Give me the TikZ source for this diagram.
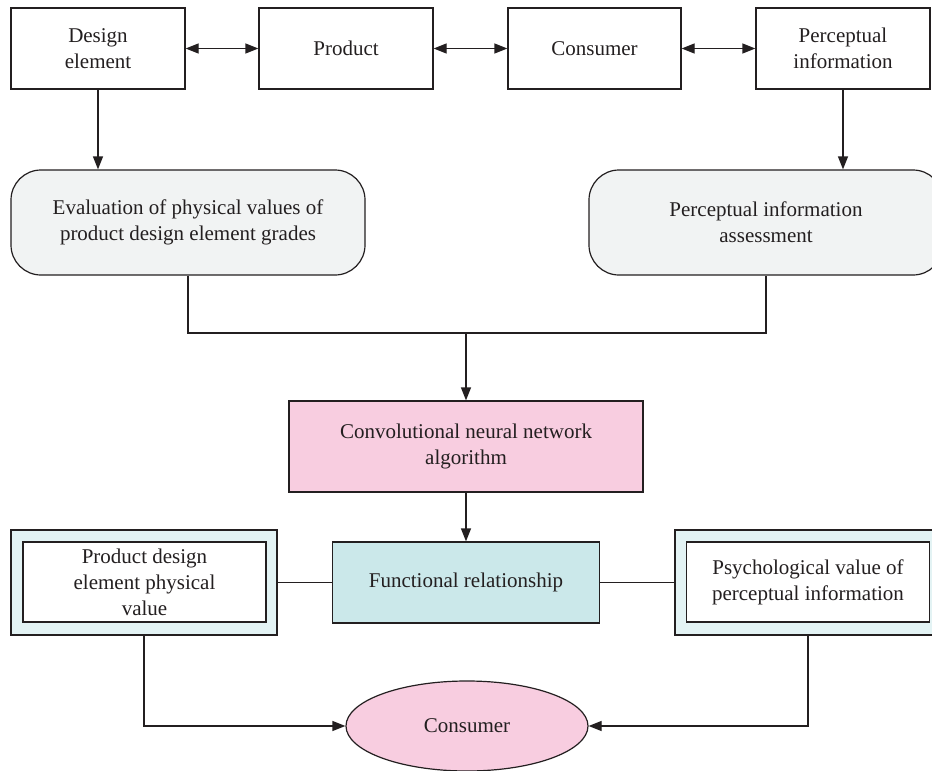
\documentclass[tikz,border=0pt]{standalone}
\usepackage{fontspec}
\setmainfont{Liberation Serif}
\usetikzlibrary{arrows.meta,shapes.geometric}
\definecolor{ink}{HTML}{231F20}
\definecolor{greyfill}{HTML}{F1F3F3}
\definecolor{pinkfill}{HTML}{F8CDE0}
\definecolor{tealfill}{HTML}{CBE8EA}
\definecolor{palefill}{HTML}{E3F3F4}
\tikzset{
  conn/.style={draw=ink, line width=1.2pt},
  tip/.style={},
  arr/.style={conn, -{Triangle[length=13pt,width=10pt]}},
  darr/.style={conn, {Triangle[length=13pt,width=10pt]}-{Triangle[length=13pt,width=10pt]}},
  plainbox/.style={draw=ink, line width=1.2pt, text=ink, align=center, inner sep=0pt},
  topbox/.style={plainbox, minimum width=174pt, minimum height=81pt},
  roundbox/.style={plainbox, fill=greyfill, rounded corners=30pt, minimum width=354pt, minimum height=105pt},
  outerbox/.style={plainbox, fill=palefill, minimum width=266pt, minimum height=105pt},
  innerbox/.style={plainbox, fill=white, minimum width=243pt, minimum height=80pt},
}
\begin{document}
\begin{tikzpicture}[x=1pt, y=-1pt, font=\fontsize{21}{26}\selectfont]
\useasboundingbox (0,0) rectangle (932,771);
\clip (0,0) rectangle (932,771);

% top row
\node[topbox] (design) at (98,48.5) {Design\\element};
\node[topbox] (product) at (346,48.5) {Product};
\node[topbox, minimum width=173pt] (consumer) at (594.5,48.5) {Consumer};
\node[topbox] (percinfo) at (843,48.5) {Perceptual\\information};

\draw[darr] (design.east) -- (product.west);
\draw[darr] (product.east) -- (consumer.west);
\draw[darr] (consumer.east) -- (percinfo.west);

% assessment boxes
\node[roundbox] (evalbox) at (188,222.5) {Evaluation of physical values of\\product design element grades};
\node[roundbox] (assess) at (766,222.5) {Perceptual information\\assessment};

\draw[arr] (design.south) -- (design.south |- evalbox.north);
\draw[arr] (percinfo.south) -- (percinfo.south |- assess.north);

% merge into the network
\coordinate (merge) at (466,333);
\draw[conn] (evalbox.south) -- (evalbox.south |- merge) -- (assess.south |- merge) -- (assess.south);

\node[plainbox, fill=pinkfill, minimum width=354pt, minimum height=91pt] (cnn) at (466,446.5)
  {Convolutional neural network\\algorithm};
\draw[arr] (merge) -- (cnn.north);

% functional relationship row
\node[plainbox, fill=tealfill, minimum width=267pt, minimum height=81pt] (func) at (466,582.5)
  {Functional relationship};
\draw[arr] (cnn.south) -- (func.north);

\node[outerbox] (physout) at (144,582.5) {};
\node[innerbox] (physin) at (144.5,582) {Product design\\element physical\\value};
\node[outerbox] (psyout) at (808,582.5) {};
\node[innerbox] (psyin) at (808,582) {Psychological value of\\perceptual information};

\draw[conn] (physout.east) -- (func.west);
\draw[conn] (func.east) -- (psyout.west);

% final consumer
\node[plainbox, ellipse, fill=pinkfill, minimum width=242pt, minimum height=90pt] (final) at (467,726) {Consumer};
\draw[arr] (physout.south) |- (final.west);
\draw[arr] (psyout.south) |- (final.east);
\end{tikzpicture}
\end{document}
